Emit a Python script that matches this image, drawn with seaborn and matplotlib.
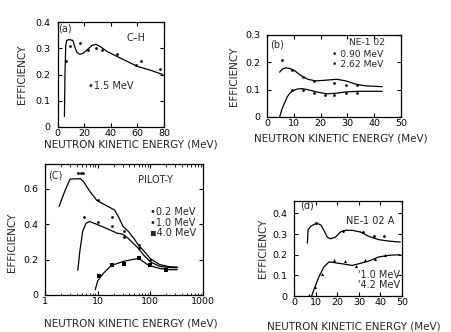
import numpy as np
import pandas as pd
import matplotlib
matplotlib.use("Agg")
import matplotlib.pyplot as plt
import seaborn as sns
from matplotlib.ticker import LogLocator, NullFormatter

# ---------------- data ----------------
# (a) C-H, threshold 1.5 MeV
a_curve_e = [5.2, 5.6, 6.2, 7.0, 8.5, 11.5, 13.0, 14.5, 16.5, 19.0, 22.5, 26.0, 29.0, 32.5, 37.5, 47.5, 60.0, 70.0, 79.0]
a_curve_eff = [0.04, 0.20, 0.31, 0.33, 0.333, 0.33, 0.305, 0.285, 0.277, 0.28, 0.295, 0.311, 0.315, 0.305, 0.287, 0.262, 0.231, 0.216, 0.200]
a_pts_e = [6.3, 9.3, 16.8, 23.0, 28.8, 33.8, 45.0, 58.8, 62.5, 76.8]
a_pts_eff = [0.25, 0.31, 0.32, 0.293, 0.30, 0.293, 0.277, 0.237, 0.252, 0.22]

# (b) NE-102, thresholds 0.90 and 2.62 MeV
b_hi_e = [4.7, 5.8, 7.1, 8.7, 10.5, 12.9, 15.2, 18.2, 22.4, 26.0, 29.5, 33.1, 36.7, 43.0]
b_hi_eff = [0.164, 0.176, 0.180, 0.177, 0.168, 0.150, 0.138, 0.132, 0.135, 0.138, 0.132, 0.120, 0.114, 0.111]
b_hi_pts_e = [5.6, 9.4, 13.3, 17.6, 25.1, 29.5, 33.5]
b_hi_pts_eff = [0.208, 0.173, 0.145, 0.132, 0.126, 0.118, 0.118]
b_lo_e = [4.7, 5.7, 6.5, 7.5, 8.5, 9.5, 11.1, 12.9, 15.2, 18.8, 22.4, 26.0, 29.5, 34.3, 43.0]
b_lo_eff = [0.0, 0.032, 0.050, 0.073, 0.087, 0.095, 0.102, 0.104, 0.100, 0.091, 0.085, 0.087, 0.092, 0.094, 0.094]
b_lo_pts_e = [9.4, 13.3, 17.6, 21.5, 25.1, 29.5, 33.5]
b_lo_pts_eff = [0.099, 0.100, 0.089, 0.081, 0.079, 0.088, 0.089]

# (c) PILOT-Y, thresholds 0.2, 1.0, 4.0 MeV
c_02_e = [1.85, 2.4, 3.0, 4.7, 5.4, 7.1, 9.6, 12.7, 16.9, 21.0, 25.0, 30.0, 38.0, 50.0, 60.0, 70.0, 100.0, 150.0, 230.0, 325.0]
c_02_eff = [0.50, 0.59, 0.655, 0.657, 0.64, 0.585, 0.535, 0.515, 0.495, 0.48, 0.44, 0.39, 0.36, 0.315, 0.28, 0.26, 0.205, 0.172, 0.16, 0.158]
c_10_e = [4.2, 4.6, 5.2, 6.0, 7.0, 9.5, 15.0, 23.0, 30.0, 38.0, 50.0, 60.0, 75.0, 100.0, 150.0, 230.0, 325.0]
c_10_eff = [0.14, 0.25, 0.36, 0.405, 0.415, 0.40, 0.375, 0.35, 0.343, 0.32, 0.285, 0.262, 0.225, 0.187, 0.162, 0.155, 0.154]
c_40_e = [9.0, 10.0, 12.6, 18.0, 31.0, 45.0, 55.0, 65.0, 85.0, 100.0, 150.0, 230.0, 325.0]
c_40_eff = [0.03, 0.08, 0.12, 0.166, 0.19, 0.2, 0.205, 0.2, 0.175, 0.165, 0.15, 0.143, 0.143]
c_02_pts_e = [4.3, 4.8, 5.3, 10.0, 19.0, 31.0, 60.0, 100.0]
c_02_pts_eff = [0.69, 0.69, 0.69, 0.535, 0.44, 0.36, 0.285, 0.196]
c_10_pts_e = [5.5, 10.0, 19.0, 31.0, 60.0, 200.0]
c_10_pts_eff = [0.442, 0.413, 0.39, 0.33, 0.263, 0.147]
c_40_pts_e = [10.5, 19.0, 32.0, 60.0, 100.0, 200.0]
c_40_pts_eff = [0.11, 0.168, 0.175, 0.21, 0.171, 0.14]

# (d) NE-102A, thresholds 1.0 and 4.2 MeV
d_10_e = [6.2, 6.5, 7.7, 9.5, 10.8, 12.5, 14.0, 15.4, 16.9, 19.2, 21.5, 23.8, 26.9, 30.8, 34.6, 39.2, 43.8, 49.2]
d_10_eff = [0.256, 0.32, 0.337, 0.348, 0.352, 0.343, 0.315, 0.285, 0.277, 0.285, 0.31, 0.318, 0.318, 0.31, 0.289, 0.273, 0.266, 0.261]
d_10_pts_e = [10.0, 22.5, 32.0, 37.0, 41.5]
d_10_pts_eff = [0.352, 0.315, 0.31, 0.29, 0.292]
d_42_e = [8.2, 9.0, 10.0, 11.5, 13.8, 16.2, 18.5, 22.3, 26.9, 30.0, 34.6, 39.2, 43.8, 49.2]
d_42_eff = [0.0, 0.025, 0.052, 0.092, 0.14, 0.165, 0.162, 0.156, 0.148, 0.156, 0.169, 0.189, 0.197, 0.2]
d_42_pts_e = [6.9, 9.7, 12.8, 18.5, 23.8, 28.5, 33.0, 37.7, 42.3]
d_42_pts_eff = [0.005, 0.044, 0.105, 0.176, 0.169, 0.145, 0.173, 0.18, 0.197]

XLABEL = "NEUTRON KINETIC ENERGY (MeV)"
YLABEL = "EFFICIENCY"

# ---------------- style ----------------
sns.set_style("ticks")
plt.rcParams.update({
    "font.family": ["DejaVu Sans"],
    "xtick.direction": "in", "ytick.direction": "in",
    "xtick.top": True, "ytick.right": True,
    "xtick.major.size": 3, "ytick.major.size": 3,
    "xtick.minor.size": 1.8,
    "xtick.major.width": 0.8, "ytick.major.width": 0.8,
    "axes.linewidth": 0.9,
    "axes.edgecolor": "black",
    "xtick.color": "black", "ytick.color": "black",
})

W, H = 451, 332
fig = plt.figure(figsize=(W / 100, H / 100), dpi=100)
fig.patch.set_facecolor("white")


def make_ax(l, r, t, b):
    return fig.add_axes([l / W, 1 - b / H, (r - l) / W, (b - t) / H])


LW = 0.9
FS_T = 6.8
FS_L = 7.5
FS_A = 7.0


def curve(ax, e, eff):
    df = pd.DataFrame({"e": e, "eff": eff})
    sns.lineplot(data=df, x="e", y="eff", ax=ax, color="black", lw=LW,
                 sort=False, estimator=None)


def pts(ax, e, eff, marker="o", s=4):
    df = pd.DataFrame({"e": e, "eff": eff})
    sns.scatterplot(data=df, x="e", y="eff", ax=ax, color="black", s=s,
                    marker=marker, linewidth=0, zorder=3)


def finish(ax, xl, yl, xticks, yticks, yfmt, xlab_pos, ylab_pos):
    ax.set_xlim(*xl)
    ax.set_ylim(*yl)
    ax.set_xticks(xticks)
    ax.set_yticks(yticks)
    ax.set_yticklabels([yfmt(v) for v in yticks])
    ax.tick_params(axis="both", labelsize=FS_T)
    ax.tick_params(axis="y", pad=5)
    ax.tick_params(axis="x", pad=1.5)
    ax.set_xlabel(XLABEL, fontsize=FS_L)
    ax.set_ylabel(YLABEL, fontsize=FS_L)
    ax.xaxis.set_label_coords(*xlab_pos)
    ax.yaxis.set_label_coords(*ylab_pos)
    for s in ax.spines.values():
        s.set_visible(True)


def yf(v):
    return "0" if v == 0 else f"{v:g}"


# ---- (a) ----
ax = make_ax(57.5, 164, 22, 127)
curve(ax, a_curve_e, a_curve_eff)
pts(ax, a_pts_e, a_pts_eff)
finish(ax, (0, 80), (0, 0.4), [0, 20, 40, 60, 80], [0, 0.1, 0.2, 0.3, 0.4], yf,
       (0.69, -0.12), (-0.29, 0.5))
ax.text(0.01, 0.94, "(a)", transform=ax.transAxes, fontsize=FS_A, va="center", ha="left")
ax.text(0.734, 0.85, "C–H", transform=ax.transAxes, fontsize=FS_A, va="center", ha="center")
ax.text(0.289, 0.389, "•1.5 MeV", transform=ax.transAxes, fontsize=FS_A, va="center", ha="left")

# ---- (b) ----
ax = make_ax(267, 401, 35, 117)
curve(ax, b_hi_e, b_hi_eff)
curve(ax, b_lo_e, b_lo_eff)
pts(ax, b_hi_pts_e, b_hi_pts_eff)
pts(ax, b_lo_pts_e, b_lo_pts_eff)
finish(ax, (0, 50), (0, 0.3), [0, 10, 20, 30, 40, 50], [0, 0.1, 0.2, 0.3], yf,
       (0.55, -0.2), (-0.21, 0.5))
FS_B = 6.6
ax.text(0.02, 0.89, "(b)", transform=ax.transAxes, fontsize=FS_A, va="center", ha="left")
ax.text(0.744, 0.905, "NE-1 02", transform=ax.transAxes, fontsize=FS_B, va="center", ha="center")
ax.text(0.483, 0.762, "• 0.90 MeV", transform=ax.transAxes, fontsize=FS_B, va="center", ha="left")
ax.text(0.483, 0.64, "• 2.62 MeV", transform=ax.transAxes, fontsize=FS_B, va="center", ha="left")

# ---- (c) ----
ax = make_ax(45, 203, 164, 295)
ax.set_xscale("log")
curve(ax, c_02_e, c_02_eff)
curve(ax, c_10_e, c_10_eff)
curve(ax, c_40_e, c_40_eff)
pts(ax, c_02_pts_e, c_02_pts_eff)
pts(ax, c_10_pts_e, c_10_pts_eff)
pts(ax, c_40_pts_e, c_40_pts_eff, marker="s", s=6)
finish(ax, (1, 1000), (0, 0.74), [1, 10, 100, 1000], [0, 0.2, 0.4, 0.6], yf,
       (0.543, -0.18), (-0.18, 0.4))
ax.set_xticklabels(["1", "10", "100", "1000"])
ax.xaxis.set_minor_locator(LogLocator(base=10, subs=np.arange(2, 10)))
ax.xaxis.set_minor_formatter(NullFormatter())
ax.text(0.02, 0.916, "(C)", transform=ax.transAxes, fontsize=FS_A, va="center", ha="left")
ax.text(0.70, 0.88, "PILOT-Y", transform=ax.transAxes, fontsize=FS_A, va="center", ha="center")
ax.text(0.665, 0.636, "•0.2 MeV", transform=ax.transAxes, fontsize=FS_A, va="center", ha="left")
ax.text(0.665, 0.552, "•1.0 MeV", transform=ax.transAxes, fontsize=FS_A, va="center", ha="left")
ax.text(0.665, 0.471, "▪4.0 MeV", transform=ax.transAxes, fontsize=FS_A, va="center", ha="left")

# ---- (d) ----
ax = make_ax(294, 402, 201, 296)
curve(ax, d_10_e, d_10_eff)
curve(ax, d_42_e, d_42_eff)
pts(ax, d_10_pts_e, d_10_pts_eff)
pts(ax, d_42_pts_e, d_42_pts_eff, marker="^", s=5)
finish(ax, (0, 50), (0, 0.46), [0, 10, 20, 30, 40, 50], [0, 0.1, 0.2, 0.3, 0.4], yf,
       (0.556, -0.27), (-0.24, 0.5))
ax.text(0.055, 0.953, "(d)", transform=ax.transAxes, fontsize=FS_A, va="center", ha="left")
ax.text(0.704, 0.79, "NE-1 02 A", transform=ax.transAxes, fontsize=FS_A, va="center", ha="center")
ax.text(0.596, 0.221, "'1.0 MeV", transform=ax.transAxes, fontsize=FS_A, va="center", ha="left")
ax.text(0.596, 0.116, "'4.2 MeV", transform=ax.transAxes, fontsize=FS_A, va="center", ha="left")

fig.savefig("out.png", dpi=100, facecolor="white")
